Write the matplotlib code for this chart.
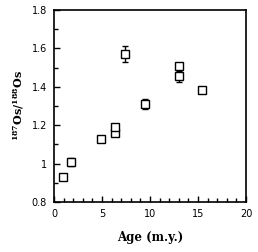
import numpy as np
from matplotlib import pyplot as plt
from matplotlib.ticker import MultipleLocator

plt.rcParams['mathtext.fontset'] = 'dejavuserif'

# Age (m.y.) and 187Os/188Os ratio
age = [0.9, 1.8, 4.9, 6.4, 6.4, 7.4, 9.5, 13.0, 13.0, 15.4]
ratio = [0.93, 1.01, 1.13, 1.16, 1.19, 1.57, 1.31, 1.51, 1.455, 1.385]
err = [0.0, 0.02, 0.0, 0.0, 0.0, 0.04, 0.025, 0.0, 0.028, 0.0]

fig = plt.figure(figsize=(2.58, 2.52), dpi=100)
ax = fig.add_axes([54 / 258, 50 / 252, 192 / 258, 192 / 252])

ax.errorbar(age, ratio, yerr=err, fmt='s', mfc='white', mec='black',
            ms=6, mew=1.0, ecolor='black', elinewidth=1.0, capsize=2.5,
            capthick=1.0)

ax.set_xlim(0, 20)
ax.set_ylim(0.8, 1.8)
ax.xaxis.set_major_locator(MultipleLocator(5))
ax.xaxis.set_minor_locator(MultipleLocator(1))
ax.yaxis.set_minor_locator(MultipleLocator(0.1))
ax.set_yticks([0.8, 1.0, 1.2, 1.4, 1.6, 1.8], ['0.8', '1', '1.2', '1.4', '1.6', '1.8'])
ax.tick_params(which='both', direction='in', top=False, right=False,
               labelsize=7, width=1.0)
ax.tick_params(which='major', length=4, pad=5)
ax.tick_params(which='minor', length=3)
for s in ax.spines.values():
    s.set_linewidth(1.2)

ax.set_xlabel('Age (m.y.)', fontsize=8.5, fontweight='bold', family='DejaVu Serif',
              labelpad=9)
ax.set_ylabel(r'$\mathbf{^{187}Os/^{188}Os}$', fontsize=8, labelpad=4)

plt.savefig('out.png', dpi=100)
plt.close()
